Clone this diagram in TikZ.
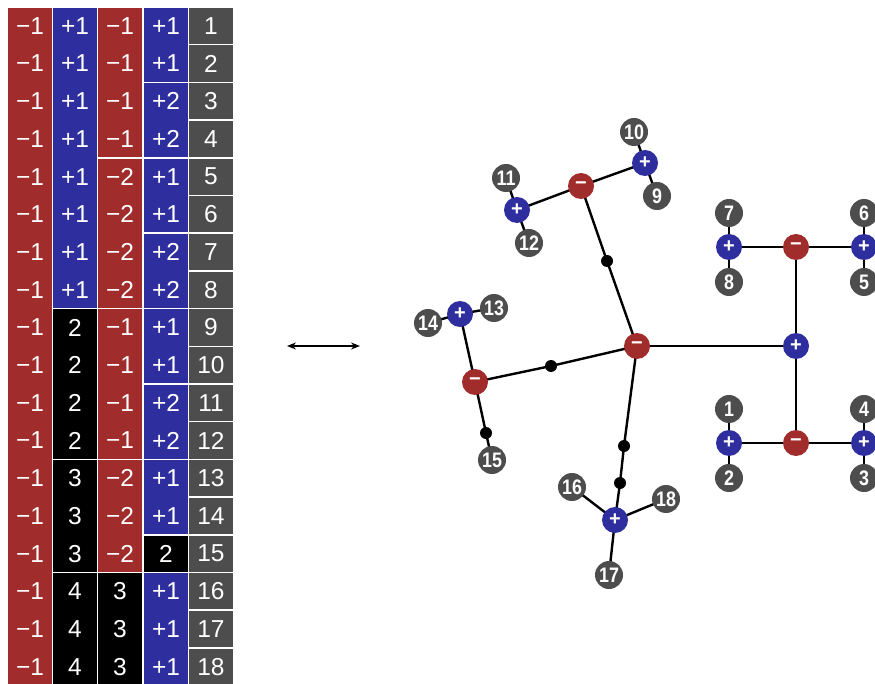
\documentclass[tikz,border=0pt]{standalone}
\usepackage{fontspec}
\setmainfont{Liberation Sans}
\usetikzlibrary{arrows.meta,backgrounds}
\definecolor{cred}{RGB}{160,44,44}
\definecolor{cblue}{RGB}{46,46,158}
\definecolor{cgray}{RGB}{77,77,77}
\newcommand\blk[4]{\fill[#4] ({#1-22},{7+(#2-1)*37.7+0.75}) rectangle ({#1+22},{7+#3*37.7-0.75});}
\newcommand\lbtxt[1]{\scalebox{0.85}[1]{\bfseries #1}}
\begin{document}
\begin{tikzpicture}[x=1pt,y=-1pt,
  tt/.style={text=white,font=\fontsize{24.5}{24.5}\selectfont,inner sep=0pt},
  chg/.style={circle,minimum size=26pt,inner sep=0pt,text=white,font=\fontsize{20}{20}\selectfont\bfseries},
  negn/.style={chg,fill=cred},
  posn/.style={chg,fill=cblue},
  lbl/.style={circle,minimum size=28pt,inner sep=0pt,fill=cgray,text=white,font=\fontsize{21}{21}\selectfont},
  dotn/.style={circle,minimum size=12pt,inner sep=0pt,fill=black},
  edge/.style={line width=2.4pt,black}]
\useasboundingbox (0,0) rectangle (875,684);
% table blocks
\blk{30}{1}{18}{cred}
\blk{75}{1}{8}{cblue}
\blk{75}{9}{12}{black}
\blk{75}{13}{15}{black}
\blk{75}{16}{18}{black}
\blk{120}{1}{4}{cred}
\blk{120}{5}{8}{cred}
\blk{120}{9}{12}{cred}
\blk{120}{13}{15}{cred}
\blk{120}{16}{18}{black}
\blk{166}{1}{2}{cblue}
\blk{166}{3}{4}{cblue}
\blk{166}{5}{6}{cblue}
\blk{166}{7}{8}{cblue}
\blk{166}{9}{10}{cblue}
\blk{166}{11}{12}{cblue}
\blk{166}{13}{14}{cblue}
\blk{166}{15}{15}{black}
\blk{166}{16}{18}{cblue}
\foreach \r in {1,...,18}{\blk{211}{\r}{\r}{cgray}}
\foreach \r/\b/\c/\d in {1/+1/−1/+1,2/+1/−1/+1,3/+1/−1/+2,4/+1/−1/+2,5/+1/−2/+1,6/+1/−2/+1,7/+1/−2/+2,8/+1/−2/+2,9/2/−1/+1,10/2/−1/+1,11/2/−1/+2,12/2/−1/+2,13/3/−2/+1,14/3/−2/+1,15/3/−2/2,16/4/3/+1,17/4/3/+1,18/4/3/+1}{
  \node[tt] (c1r\r) at (30,{7+(\r-0.5)*37.7}) {−1};
  \node[tt] (c2r\r) at (75,{7+(\r-0.5)*37.7}) {\b};
  \node[tt] (c3r\r) at (120,{7+(\r-0.5)*37.7}) {\c};
  \node[tt] (c4r\r) at (166,{7+(\r-0.5)*37.7}) {\d};
  \node[tt] (c5r\r) at (211,{7+(\r-0.5)*37.7}) {\r};
}
% arrow
\coordinate (ar1) at (287,346);
\coordinate (ar2) at (360,346);
\draw[line width=1.3pt,{Stealth[length=9pt,width=7pt]}-{Stealth[length=9pt,width=7pt]}] (ar1) -- (ar2);
% graph nodes
\node[negn] (C) at (637,346) {−};
\node[posn] (P0) at (796,346) {+};
\node[negn] (M1) at (796,247) {−};
\node[posn] (A7) at (729,247) {+};
\node[posn] (A6) at (864,247) {+};
\node[lbl] (L7) at (729,213) {\lbtxt{7}};
\node[lbl] (L8) at (729,282) {\lbtxt{8}};
\node[lbl] (L6) at (864,213) {\lbtxt{6}};
\node[lbl] (L5) at (864,282) {\lbtxt{5}};
\node[negn] (M2) at (796,443) {−};
\node[posn] (A1) at (729,443) {+};
\node[posn] (A4) at (864,443) {+};
\node[lbl] (L1) at (729,409) {\lbtxt{1}};
\node[lbl] (L2) at (729,478) {\lbtxt{2}};
\node[lbl] (L4) at (864,409) {\lbtxt{4}};
\node[lbl] (L3) at (864,478) {\lbtxt{3}};
\node[negn] (M3) at (581,186) {−};
\node[dotn] (D1) at (607,261) {};
\node[posn] (A11) at (517,210) {+};
\node[lbl] (L11) at (506,178) {\lbtxt{11}};
\node[lbl] (L12) at (529,243) {\lbtxt{12}};
\node[posn] (A10) at (645,163) {+};
\node[lbl] (L10) at (634,132) {\lbtxt{10}};
\node[lbl] (L9) at (657,196) {\lbtxt{9}};
\node[negn] (ML) at (475,382) {−};
\node[dotn] (D2) at (551,366) {};
\node[posn] (A13) at (460,314) {+};
\node[lbl] (L13) at (494,308) {\lbtxt{13}};
\node[lbl] (L14) at (428,323) {\lbtxt{14}};
\node[dotn] (D3) at (486,433) {};
\node[lbl] (L15) at (492,460) {\lbtxt{15}};
\node[dotn] (D4) at (624,446) {};
\node[dotn] (D5) at (620,483) {};
\node[posn] (A16) at (615,520) {+};
\node[lbl] (L16) at (572,487) {\lbtxt{16}};
\node[lbl] (L18) at (666,499) {\lbtxt{18}};
\node[lbl] (L17) at (609,575) {\lbtxt{17}};
\begin{scope}[on background layer]
\draw[edge] (C.center) -- (P0.center);
\draw[edge] (M1.center) -- (P0.center) -- (M2.center);
\draw[edge] (A7.center) -- (M1.center) -- (A6.center);
\draw[edge] (L7.center) -- (A7.center) -- (L8.center);
\draw[edge] (L6.center) -- (A6.center) -- (L5.center);
\draw[edge] (A1.center) -- (M2.center) -- (A4.center);
\draw[edge] (L1.center) -- (A1.center) -- (L2.center);
\draw[edge] (L4.center) -- (A4.center) -- (L3.center);
\draw[edge] (C.center) -- (D1.center) -- (M3.center);
\draw[edge] (A11.center) -- (M3.center) -- (A10.center);
\draw[edge] (L11.center) -- (A11.center) -- (L12.center);
\draw[edge] (L10.center) -- (A10.center) -- (L9.center);
\draw[edge] (C.center) -- (D2.center) -- (ML.center);
\draw[edge] (A13.center) -- (ML.center) -- (D3.center) -- (L15.center);
\draw[edge] (L13.center) -- (A13.center) -- (L14.center);
\draw[edge] (C.center) -- (D4.center) -- (D5.center) -- (A16.center);
\draw[edge] (L16.center) -- (A16.center) -- (L17.center);
\draw[edge] (A16.center) -- (L18.center);
\end{scope}
\end{tikzpicture}
\end{document}
